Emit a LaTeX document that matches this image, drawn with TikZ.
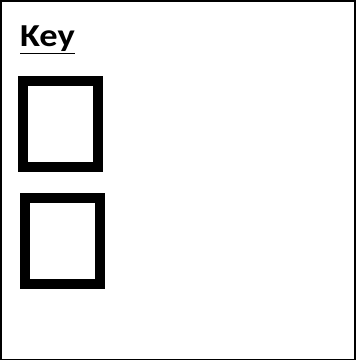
\documentclass[tikz,border=0pt]{standalone}
\usepackage{fontspec}
\setmainfont{Carlito}
\begin{document}
\begin{tikzpicture}[x=1pt,y=-1pt,
  keybox/.style={draw,line width=10pt,minimum width=75pt,minimum height=86pt,inner sep=0pt},
  frame/.style={draw,line width=1.5pt}]
  \useasboundingbox (0,0) rectangle (356,361);
  \draw[frame] (1,1) rectangle (355,359.5);
  \node[anchor=base west,font=\bfseries\fontsize{32}{32}\selectfont,inner sep=0pt] (key) at (20,47) {\scalebox{1.14}[1]{\underline{Key}}};
  \node[keybox] (first) at (60,123.5) {};
  \node[keybox] (second) at (62.5,240.5) {};
\end{tikzpicture}
\end{document}
